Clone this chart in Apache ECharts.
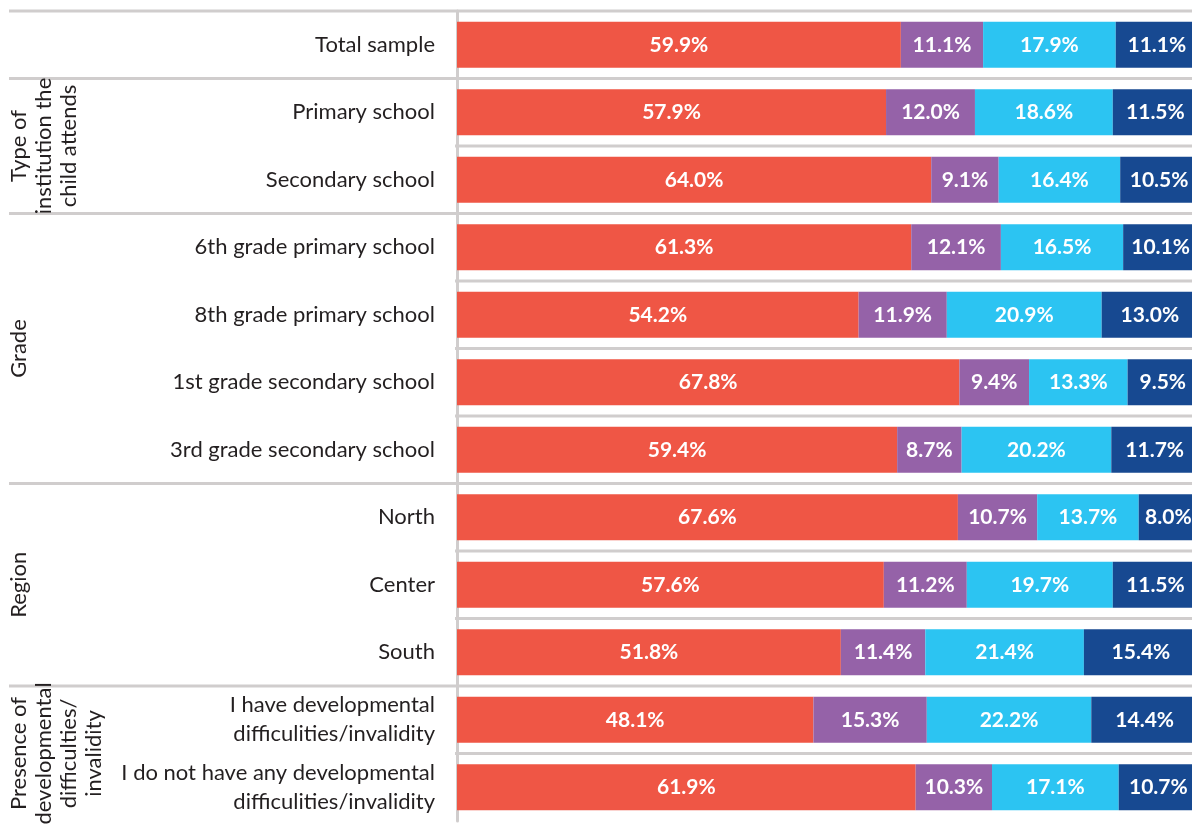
<!DOCTYPE html>
<html>
<head>
<meta charset="utf-8">
<script src="https://cdn.jsdelivr.net/npm/echarts@6/dist/echarts.min.js"></script>
<style>
  html, body { margin: 0; padding: 0; background: #ffffff; }
  #chart { width: 1192px; height: 825px; }
</style>
</head>
<body>
<div id="chart"></div>
<script>
// Row labels, top to bottom
const categories = [
  'Total sample',
  'Primary school',
  'Secondary school',
  '6th grade primary school',
  '8th grade primary school',
  '1st grade secondary school',
  '3rd grade secondary school',
  'North',
  'Center',
  'South',
  'I have developmental\ndifficulities/invalidity',
  'I do not have any developmental\ndifficulities/invalidity'
];

// Row groups (first and last row index of each group)
const groupNames = [
  '',
  'Type of\ninstitution the\nchild attends',
  'Grade',
  'Region',
  'Presence of\ndevelopmental\ndifficulties/\ninvalidity'
];
const groupFirst = [0, 1, 3, 7, 10];
const groupLast = [0, 2, 6, 9, 11];

// Shares per answer (percent)
const shareA = [59.9, 57.9, 64.0, 61.3, 54.2, 67.8, 59.4, 67.6, 57.6, 51.8, 48.1, 61.9];
const shareB = [11.1, 12.0, 9.1, 12.1, 11.9, 9.4, 8.7, 10.7, 11.2, 11.4, 15.3, 10.3];
const shareC = [17.9, 18.6, 16.4, 16.5, 20.9, 13.3, 20.2, 13.7, 19.7, 21.4, 22.2, 17.1];
const shareD = [11.1, 11.5, 10.5, 10.1, 13.0, 9.5, 11.7, 8.0, 11.5, 15.4, 14.4, 10.7];

const colors = ['#EF5645', '#9562A8', '#2CC4F2', '#174991'];
const FONT = 'Lato, "Open Sans", sans-serif';
const GRID_LINE = '#d0cdcd';

const chart = echarts.init(document.getElementById('chart'), null, { renderer: 'canvas' });

function makeSeries(name, data, color) {
  return {
    name: name,
    type: 'bar',
    stack: 'total',
    data: data,
    barWidth: 46,
    itemStyle: { color: color },
    label: {
      show: true,
      position: 'inside',
      color: '#ffffff',
      fontFamily: FONT,
      fontWeight: 'bold',
      fontSize: 21,
      formatter: p => p.value.toFixed(1) + '%'
    },
    emphasis: { disabled: true },
    animation: false
  };
}

chart.setOption({
  animation: false,
  // the plot runs a few pixels past the right edge of the canvas
  grid: { left: 457, top: 11, width: 741, height: 810, outerBoundsMode: 'none' },
  xAxis: {
    type: 'value',
    min: 0,
    max: 100,
    show: false
  },
  yAxis: {
    type: 'category',
    data: categories,
    inverse: true,
    offset: 2,
    axisLine: { show: true, lineStyle: { color: GRID_LINE, width: 3 } },
    axisTick: { show: false },
    splitLine: { show: false },
    axisLabel: {
      margin: 20,
      color: '#231f20',
      fontFamily: FONT,
      fontSize: 22,
      lineHeight: 29,
      align: 'right'
    }
  },
  series: [
    makeSeries('Answer 1', shareA, colors[0]),
    makeSeries('Answer 2', shareB, colors[1]),
    makeSeries('Answer 3', shareC, colors[2]),
    makeSeries('Answer 4', shareD, colors[3])
  ]
});

// Separator lines and rotated group titles, positioned from the category axis
function rowCenter(i) {
  return chart.convertToPixel({ yAxisIndex: 0 }, i);
}
const c0 = rowCenter(0);
const band = rowCenter(1) - c0;
function boundaryBefore(i) { return c0 + (i - 0.5) * band; }

const axisX = chart.convertToPixel({ xAxisIndex: 0 }, 0) - 2;
const rightX = 1192;
const leftX = 9;
const graphics = [];

function hLine(x1, y, x2) {
  graphics.push({
    type: 'line',
    shape: { x1: x1, y1: y, x2: x2, y2: y },
    style: { stroke: GRID_LINE, lineWidth: 3 },
    z: 0, silent: true
  });
}

// top rule
hLine(leftX, boundaryBefore(0), rightX);
for (let i = 1; i < categories.length; i++) {
  const startsGroup = groupFirst.indexOf(i) >= 0;
  hLine(startsGroup ? leftX : axisX, boundaryBefore(i), rightX);
}

groupNames.forEach((name, g) => {
  if (!name) return;
  const cy = (rowCenter(groupFirst[g]) + rowCenter(groupLast[g])) / 2;
  graphics.push({
    type: 'text',
    x: 6,
    y: cy,
    rotation: Math.PI / 2,
    silent: true,
    style: {
      text: name,
      fill: '#231f20',
      font: '22px ' + FONT,
      align: 'center',
      verticalAlign: 'top',
      lineHeight: 25
    }
  });
});

chart.setOption({ graphic: graphics });
</script>
</body>
</html>
